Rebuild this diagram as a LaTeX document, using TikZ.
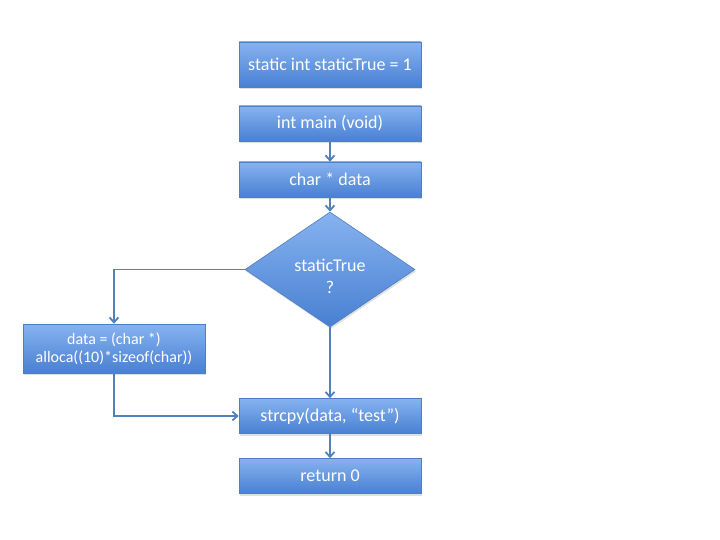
\documentclass[tikz,border=0pt]{standalone}
\usepackage{fontspec}
\setmainfont{Carlito}
\usetikzlibrary{shapes.geometric,arrows.meta,shadows}
\definecolor{boxtop}{RGB}{135,178,240}
\definecolor{boxbot}{RGB}{72,128,210}
\definecolor{boxedge}{RGB}{80,126,190}
\definecolor{linec}{RGB}{79,129,189}
\tikzset{
  blockbox/.style={rectangle, draw=boxedge, line width=0.6pt, top color=boxtop, bottom color=boxbot,
    minimum width=182pt, minimum height=35pt, text=white, font=\fontsize{18}{20}\selectfont,
    align=center, inner sep=0pt, drop shadow={shadow xshift=1pt, shadow yshift=-2pt, opacity=0.25}},
  decbox/.style={diamond, draw=boxedge, line width=0.6pt, top color=boxtop, bottom color=boxbot,
    minimum width=170pt, minimum height=115pt, aspect=1.48, text=white, inner sep=0pt,
    font=\fontsize{18}{22}\selectfont, align=center,
    drop shadow={shadow xshift=1pt, shadow yshift=-2pt, opacity=0.25}},
  conn/.style={draw=linec, line width=1.8pt, -{Straight Barb[length=5pt,width=9pt]}},
}
\begin{document}
\begin{tikzpicture}[x=1pt,y=-1pt]
\useasboundingbox (0,0) rectangle (720,540);
\node[blockbox, minimum height=45pt] (stat) at (330,64.5) {static int staticTrue = 1};
\node[blockbox] (main) at (330,123.5) {int main (void)};
\node[blockbox] (decl) at (330,179.5) {char * data};
\node[decbox] (cond) at (330,269.5) {};
\node[text=white, font=\fontsize{18}{22}\selectfont, align=center] (condtext) at (330,276) {staticTrue\\?};
\node[blockbox, minimum height=49pt, font=\fontsize{16}{18}\selectfont] (alloc) at (114,348.5) {data = (char *)\\alloca((10)*sizeof(char))};
\node[blockbox] (cpy) at (330,416) {strcpy(data, “test”)};
\node[blockbox] (ret) at (330,476) {return 0};
\draw[conn] (main) -- (decl);
\draw[conn] (decl) -- (cond);
\draw[conn] (cond.west) -| (alloc.north);
\draw[conn] (alloc.south) |- (cpy.west);
\draw[conn] (cond.south) -- (cpy.north);
\draw[conn] (cpy) -- (ret);
\end{tikzpicture}
\end{document}
